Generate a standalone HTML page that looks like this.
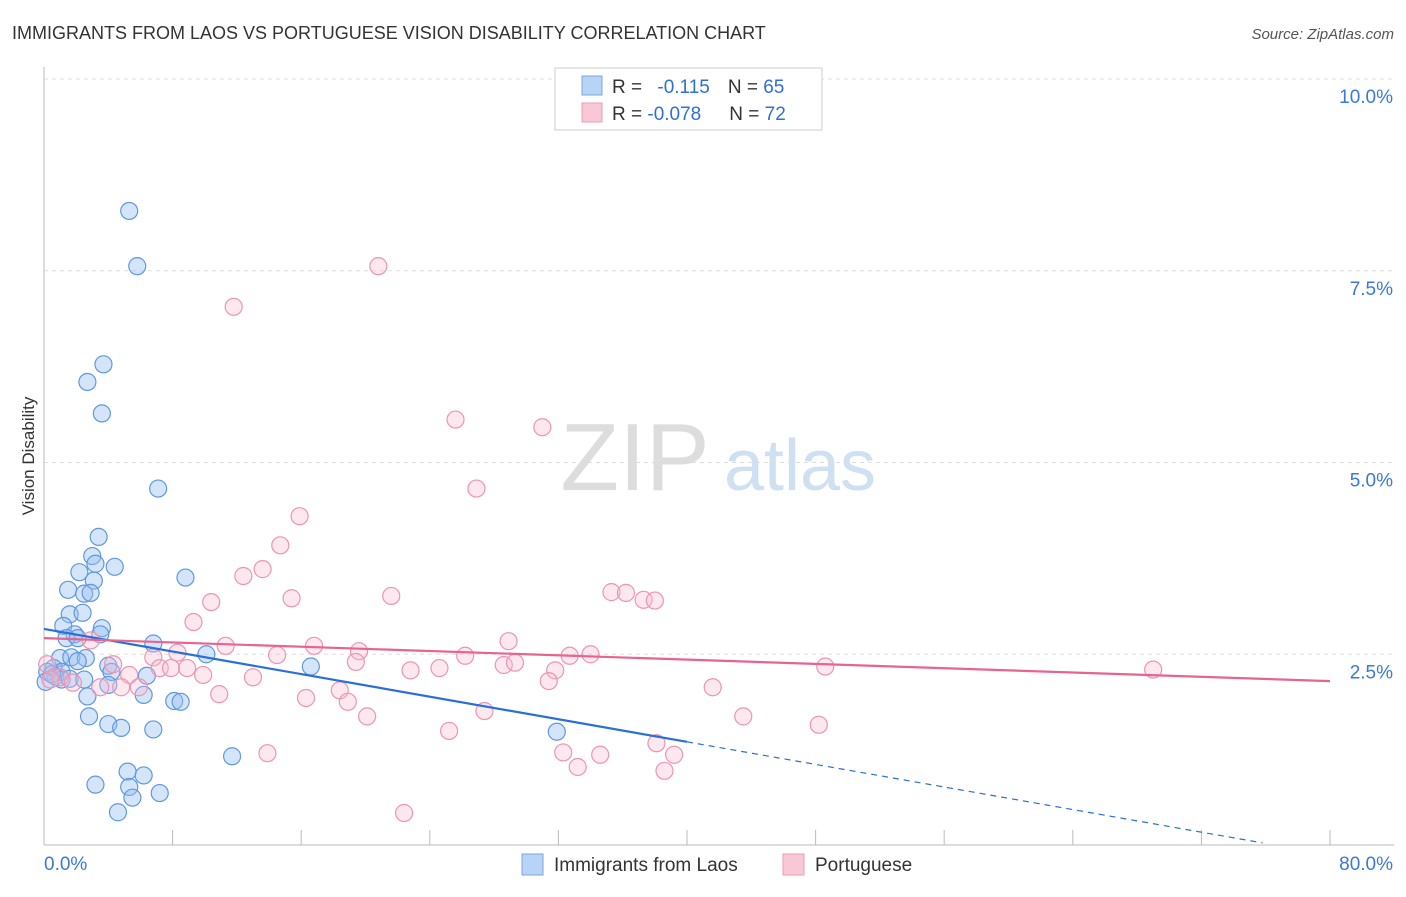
<!DOCTYPE html>
<html><head><meta charset="utf-8"><style>
body{margin:0;background:#fff;font-family:"Liberation Sans",sans-serif;}
svg text{font-family:"Liberation Sans",sans-serif;}
</style></head><body>
<svg id="c" width="1406" height="892">
<text x="12" y="39" font-size="18" fill="#333">IMMIGRANTS FROM LAOS VS PORTUGUESE VISION DISABILITY CORRELATION CHART</text>
<text x="1394" y="39" font-size="15" fill="#555" font-style="italic" text-anchor="end">Source: ZipAtlas.com</text>
<text x="34" y="456" font-size="17" fill="#333" transform="rotate(-90 34 456)" text-anchor="middle">Vision Disability</text>
<g><text x="635" y="490" font-size="96" fill="#ddd" font-family="Liberation Serif" text-anchor="middle">ZIP</text><text x="800" y="490" font-size="72" fill="#cfe0f3" text-anchor="middle">atlas</text></g>
<g id="grid"></g><g id="axes"></g><g id="pts"></g><g id="lines"></g>
<g>
<rect x="555" y="68" width="267" height="62" fill="#fff" stroke="#ccc"/>
<rect x="582" y="76" width="20" height="19" fill="#b8d3f5" stroke="#7aa7e0"/>
<rect x="582" y="103" width="20" height="19" fill="#f9c8d6" stroke="#ee9bb3"/>
<text x="612" y="93" font-size="19" fill="#333">R = <tspan fill="#2f6fd6" dx="10">-0.115</tspan><tspan dx="18" fill="#333">N = </tspan><tspan fill="#2f6fd6">65</tspan></text>
<text x="612" y="120" font-size="19" fill="#333">R = <tspan fill="#2f6fd6">-0.078</tspan><tspan dx="28" fill="#333">N = </tspan><tspan fill="#2f6fd6">72</tspan></text>
</g>
<g>
<rect x="522" y="854" width="21" height="21" fill="#b8d3f5" stroke="#7aa7e0"/>
<text x="554" y="871" font-size="19" fill="#333">Immigrants from Laos</text>
<rect x="783" y="854" width="21" height="21" fill="#f9c8d6" stroke="#ee9bb3"/>
<text x="815" y="871" font-size="19" fill="#333">Portuguese</text>
</g>
</svg>
<script>
const yTicks=[2.5,5,7.5,10];
const yTickLabels=["2.5%","5.0%","7.5%","10.0%"];
const xTicks=[0,8,16,24,32,40,48,56,64,72,80];
const laosX=[5.3,5.8,3.7,2.7,3.6,7.1,3.4,3.0,4.4,3.2,2.2,8.8,3.1,1.5,2.5,2.9,1.6,2.4,1.2,1.9,3.6,1.4,2.1,3.5,6.8,10.1,1.0,1.7,2.6,2.1,0.6,0.2,1.1,4.0,6.4,4.2,0.7,1.1,1.6,0.1,0.5,2.5,2.7,6.2,4.0,16.6,8.1,8.5,2.8,4.0,4.8,6.8,31.9,11.7,5.2,6.2,3.2,5.3,7.2,5.5,4.6];
const laosY=[8.28,7.56,6.28,6.05,5.64,4.66,4.03,3.78,3.64,3.68,3.57,3.50,3.46,3.34,3.29,3.30,3.02,3.04,2.87,2.76,2.84,2.71,2.71,2.76,2.64,2.50,2.45,2.46,2.45,2.41,2.32,2.27,2.27,2.35,2.22,2.27,2.21,2.17,2.18,2.14,2.24,2.17,1.95,1.97,2.10,2.34,1.89,1.88,1.69,1.59,1.54,1.52,1.49,1.17,0.97,0.92,0.80,0.77,0.69,0.63,0.44];
const portX=[20.8,11.8,25.6,31.0,26.9,15.9,14.7,13.6,12.4,10.4,15.4,21.6,35.3,36.2,37.3,38.0,9.3,28.9,11.3,16.8,2.9,6.8,8.3,14.5,19.6,26.2,32.7,34.0,4.3,7.2,7.9,8.9,19.4,28.6,29.3,24.6,22.8,31.8,48.6,69.0,5.3,9.9,13.0,0.2,1.0,1.8,3.5,4.8,5.9,31.4,41.6,10.9,18.4,16.3,18.9,27.4,20.1,43.5,48.2,25.2,38.1,13.9,32.3,34.6,39.2,33.2,38.6,22.4,0.4];
const portY=[7.56,7.03,5.56,5.46,4.66,4.30,3.92,3.61,3.52,3.18,3.23,3.26,3.31,3.30,3.21,3.20,2.92,2.67,2.61,2.61,2.68,2.46,2.52,2.49,2.54,2.48,2.48,2.50,2.37,2.32,2.32,2.32,2.40,2.36,2.39,2.32,2.29,2.29,2.34,2.30,2.23,2.23,2.20,2.37,2.20,2.13,2.07,2.07,2.07,2.15,2.07,1.98,2.03,1.93,1.88,1.76,1.69,1.69,1.58,1.50,1.34,1.21,1.22,1.19,1.19,1.03,0.98,0.43,2.17];
const laosFit=[2.83,-0.0368];
const portFit=[2.71,-0.007];
const NS="http://www.w3.org/2000/svg";
const X0=44,X1=1330,Y0=846,PXU=76.7;
function sx(v){return X0+(v/80)*(X1-X0);}
function sy(v){return Y0-v*PXU;}
function mk(tag,attrs,parent){const e=document.createElementNS(NS,tag);for(const k in attrs)e.setAttribute(k,attrs[k]);document.getElementById(parent).appendChild(e);return e;}
yTicks.forEach((t,i)=>{
  const g=mk('line',{x1:X0,x2:1394,y1:sy(t),y2:sy(t),stroke:'#ddd','stroke-dasharray':'4,4'},'grid');
  
  
  const l=mk('text',{x:1393,y:sy(t)+24,'font-size':19,fill:'#3b78d8','text-anchor':'end'},'grid');
  l.textContent=yTickLabels[i];
  
  
});
const ax=mk('line',{x1:X0,x2:1394,y1:845,y2:845,stroke:'#bbb'},'axes');


const ay=mk('line',{x1:X0,x2:X0,y1:67,y2:845,stroke:'#bbb'},'axes');


xTicks.forEach(t=>{
  const k=mk('line',{x1:sx(t),x2:sx(t),y1:830,y2:845,stroke:'#bbb'},'axes');
  
  
});
const xl0=mk('text',{x:44,y:870,'font-size':19,fill:'#3b78d8'},'axes');xl0.textContent='0.0%';


const xl1=mk('text',{x:1393,y:870,'font-size':19,fill:'#3b78d8','text-anchor':'end'},'axes');xl1.textContent='80.0%';


laosX.forEach((v,i)=>{
  const c=mk('circle',{cx:sx(v),cy:sy(laosY[i]),r:8.5,fill:'rgba(150,190,240,0.4)',stroke:'#5f98e0','stroke-width':1.2},'pts');
  
  
});
portX.forEach((v,i)=>{
  const c=mk('circle',{cx:sx(v),cy:sy(portY[i]),r:8.5,fill:'rgba(248,190,210,0.35)',stroke:'#ee94b0','stroke-width':1.2},'pts');
  
  
});
const fl=(f,x)=>f[0]+f[1]*x;
const b1=mk('line',{x1:sx(0),y1:sy(fl(laosFit,0)),x2:sx(40),y2:sy(fl(laosFit,40)),stroke:'#2a6fd6','stroke-width':2.2},'lines');


const b2=mk('line',{x1:sx(40),y1:sy(fl(laosFit,40)),x2:sx(75.8),y2:sy(fl(laosFit,75.8)),stroke:'#2a6fd6','stroke-width':1.2,'stroke-dasharray':'6,5'},'lines');


const p1=mk('line',{x1:sx(0),y1:sy(fl(portFit,0)),x2:sx(80),y2:sy(fl(portFit,80)),stroke:'#e8638f','stroke-width':2.2},'lines');


</script>
</body></html>
